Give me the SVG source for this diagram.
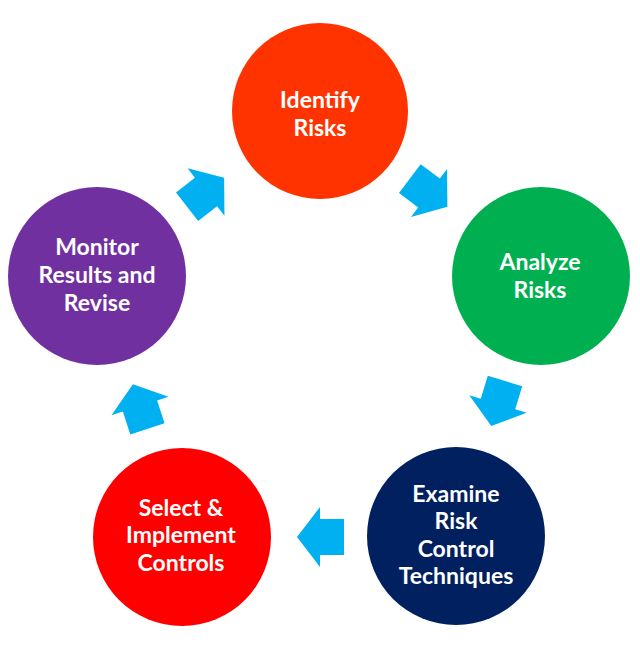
<svg xmlns="http://www.w3.org/2000/svg" width="640" height="662" viewBox="0 0 640 662">
<style>
.lbl{font-family:Lato,"Open Sans","Liberation Sans",sans-serif;font-weight:bold;font-size:23px;fill:#ffffff;text-anchor:middle}
.arr{fill:#00B0F0}
</style>
<defs>
<path id="ba" d="M-24,-18 L0,-18 L0,-30 L23,0 L0,30 L0,18 L-24,18 Z"/>
</defs>
<rect width="640" height="662" fill="#ffffff"/>
<g id="identify">
<circle cx="320" cy="111" r="88" fill="#FF3300"/>
<text class="lbl" x="320" y="108">Identify</text>
<text class="lbl" x="320" y="136">Risks</text>
</g>
<g id="analyze">
<circle cx="541" cy="276" r="89" fill="#00B050"/>
<text class="lbl" x="540" y="270">Analyze</text>
<text class="lbl" x="540" y="298">Risks</text>
</g>
<g id="examine">
<circle cx="456" cy="536" r="89" fill="#002060"/>
<text class="lbl" x="456" y="502">Examine</text>
<text class="lbl" x="456" y="529">Risk</text>
<text class="lbl" x="456" y="557">Control</text>
<text class="lbl" x="456" y="584">Techniques</text>
</g>
<g id="select">
<circle cx="182" cy="537" r="89" fill="#FF0000"/>
<text class="lbl" x="181" y="516">Select &amp;</text>
<text class="lbl" x="181" y="543">Implement</text>
<text class="lbl" x="181" y="571">Controls</text>
</g>
<g id="monitor">
<circle cx="97" cy="276" r="89" fill="#7030A0"/>
<text class="lbl" x="97" y="255">Monitor</text>
<text class="lbl" x="97" y="283">Results and</text>
<text class="lbl" x="97" y="311">Revise</text>
</g>
<g id="connectors">
<use href="#ba" class="arr" transform="translate(429,193) rotate(37)"/>
<use href="#ba" class="arr" transform="translate(498,404) rotate(107)"/>
<use href="#ba" class="arr" transform="translate(320,537) rotate(180)"/>
<use href="#ba" class="arr" transform="translate(140,406) rotate(-108)"/>
<use href="#ba" class="arr" transform="translate(206,192) rotate(-38)"/>
</g>
</svg>
